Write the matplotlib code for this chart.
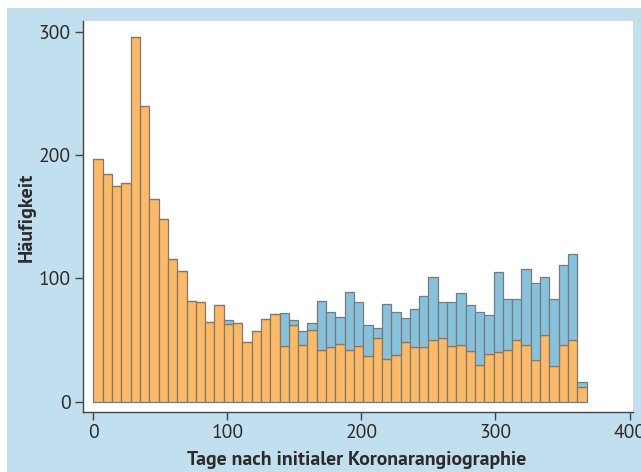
import matplotlib
matplotlib.use("Agg")
import matplotlib.pyplot as plt
import numpy as np
from matplotlib import font_manager

# ---- data (weekly bins) ----
orange_counts = [197, 185, 175, 177, 296, 240, 164, 148, 116, 106,
                 82, 81, 65, 78, 63, 64, 48, 57, 67, 71,
                 45, 62, 46, 58, 42, 44, 47, 42, 45, 37,
                 52, 35, 38, 48, 44, 44, 50, 52, 45, 46,
                 41, 30, 39, 40, 42, 50, 46, 34, 54, 29,
                 46, 50, 12]
blue_counts = [0, 0, 0, 0, 0, 0, 0, 0, 0, 0,
               0, 0, 0, 0, 3, 0, 0, 0, 0, 0,
               27, 4, 11, 6, 40, 29, 22, 47, 36, 25,
               8, 44, 35, 20, 31, 42, 51, 29, 36, 42,
               37, 43, 31, 65, 41, 33, 62, 62, 47, 54,
               65, 70, 4]
x_ticks = [0, 100, 200, 300, 400]
y_ticks = [0, 100, 200, 300]
x_label = "Tage nach initialer Koronarangiographie"
y_label = "Häufigkeit"

# ---- fonts ----
names = {f.name for f in font_manager.fontManager.ttflist}
def pick(cands):
    for c in cands:
        if c in names:
            return c
    return "DejaVu Sans"
tick_font = pick(["PT Sans", "Source Sans 3", "Source Sans Pro", "Fira Sans", "Liberation Sans"])
label_font = pick(["PT Sans", "Fira Sans", "Liberation Sans"])
plt.rcParams['font.family'] = [tick_font, 'DejaVu Sans']

bg = "#C1DFEE"
orange = "#FDB964"
blue = "#87C2DD"
edge = "#7a7a7a"
txt = "#2b2b2b"

bin_width = 368 / 53.0
lefts = np.arange(len(orange_counts)) * bin_width

fig = plt.figure(figsize=(6.41, 4.72), dpi=100, facecolor="white")
fig.patches.append(plt.Rectangle((7 / 641, 0), 1, 1 - 8 / 472, transform=fig.transFigure,
                                 facecolor=bg, edgecolor="none", zorder=-10))
ax = fig.add_axes([83 / 641, 1 - 412 / 472, 550 / 641, 391 / 472])
ax.set_facecolor("white")

ax.bar(lefts, orange_counts, width=bin_width, align="edge", color=orange,
       edgecolor=edge, linewidth=0.9)
ax.bar(lefts, blue_counts, width=bin_width, align="edge", bottom=orange_counts,
       color=blue, edgecolor=edge, linewidth=0.9)

ax.set_xlim(-7.8, 402.6)
ax.set_ylim(-8.4, 308.8)
ax.set_xticks(x_ticks)
ax.set_yticks(y_ticks)
for s in ["top", "right"]:
    ax.spines[s].set_visible(False)
for s in ["left", "bottom"]:
    ax.spines[s].set_color("#444444")
    ax.spines[s].set_linewidth(1.0)
ax.tick_params(direction="out", length=6, width=1, color="#444444",
               labelsize=14, labelcolor=txt, pad=3)

# axis labels placed in figure pixel coordinates, font size fitted to reference extents
W, H = 641, 472
xl = fig.text(357 / W, 1 - 460 / H, x_label, ha="center", va="center",
              fontsize=14, fontweight="bold", color=txt, family=[label_font, 'DejaVu Sans'])
yl = fig.text(27 / W, 1 - 217 / H, y_label, ha="center", va="center", rotation=90,
              fontsize=14, fontweight="bold", color=txt, family=[label_font, 'DejaVu Sans'])
fig.canvas.draw()
r = fig.canvas.get_renderer()
wx = xl.get_window_extent(r).width
xl.set_fontsize(14 * 341 / wx)
hy = yl.get_window_extent(r).height
yl.set_fontsize(14 * 90 / hy)

fig.savefig("out.png", dpi=100, facecolor=fig.get_facecolor())
